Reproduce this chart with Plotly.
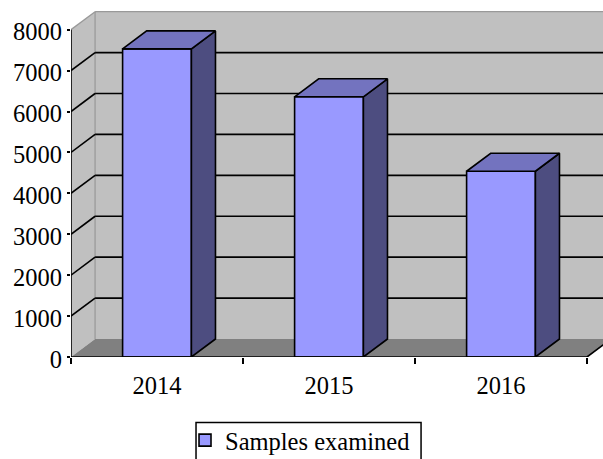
import plotly.graph_objects as go

# Data
years = ["2014", "2015", "2016"]
samples = [7530, 6360, 4540]
series_name = "Samples examined"
y_ticks = [0, 1000, 2000, 3000, 4000, 5000, 6000, 7000, 8000]

# Styling / pseudo-3D projection (depth expressed in axis units)
FONT = "Liberation Serif"
DX, DY = 0.14, 440
BAR_W = 0.4
FRONT, SIDE, TOP = "#9999FF", "#4D4D80", "#7373BF"
WALL, FLOOR, EDGE = "#C0C0C0", "#808080", "#999999"
LW = 1.6
positions = [i + 1 for i in range(len(years))]
x0, x1 = 0.5, len(years) + 0.5
ymax = y_ticks[-1]

fig = go.Figure()


def poly(xs, ys, fill, lw=0, color=None):
    path = "M " + " L ".join(f"{a},{b}" for a, b in zip(xs, ys)) + " Z"
    fig.add_shape(type="path", path=path, xref="x", yref="y", layer="below",
                  fillcolor=fill, line=dict(width=lw, color=color or fill))


def seg(xs, ys, color, lw=LW):
    fig.add_shape(type="line", x0=xs[0], x1=xs[1], y0=ys[0], y1=ys[1], xref="x", yref="y",
                  layer="below", line=dict(color=color, width=lw))


# Walls and floor
poly([x0, x0 + DX, x0 + DX, x0], [0, DY, ymax + DY, ymax], WALL)
poly([x0 + DX, x1 + DX, x1 + DX, x0 + DX], [DY, DY, ymax + DY, ymax + DY], WALL)
poly([x0, x0 + DX, x1 + DX, x1], [0, DY, DY, 0], FLOOR)
seg([x0 + DX, x0 + DX], [DY, ymax + DY], EDGE, 1.3)
seg([x0 + DX, x1 + DX], [ymax + DY, ymax + DY], EDGE, 1.3)
seg([x0, x0 + DX], [ymax, ymax + DY], EDGE, 1.3)

# Gridlines: along the side wall and across the back wall
for v in y_ticks[1:-1]:
    seg([x0, x0 + DX], [v, v + DY], "black")
    seg([x0 + DX, x1 + DX], [v + DY, v + DY], "black")

# Front faces
fig.add_trace(go.Bar(x=positions, y=samples, width=BAR_W, name=series_name, showlegend=True,
                     marker=dict(color=FRONT, line=dict(color="black", width=LW)),
                     cliponaxis=False, hoverinfo="skip"))

# Side and top faces
for p, v in zip(positions, samples):
    l, r = p - BAR_W / 2, p + BAR_W / 2
    fig.add_trace(go.Scatter(x=[r, r + DX, r + DX, r, r], y=[0, DY, v + DY, v, 0], mode="lines",
                             fill="toself", fillcolor=SIDE, line=dict(color="black", width=LW),
                             showlegend=False, cliponaxis=False, hoverinfo="skip"))
    fig.add_trace(go.Scatter(x=[l, l + DX, r + DX, r, l], y=[v, v + DY, v + DY, v, v], mode="lines",
                             fill="toself", fillcolor=TOP, line=dict(color="black", width=LW),
                             showlegend=False, cliponaxis=False, hoverinfo="skip"))

# Axis lines (limited to the front plane)
fig.add_trace(go.Scatter(x=[x0, x0], y=[0, ymax], mode="lines", line=dict(color="black", width=LW),
                         showlegend=False, cliponaxis=False, hoverinfo="skip"))
fig.add_trace(go.Scatter(x=[x0, x1, x1 + DX], y=[0, 0, DY], mode="lines", line=dict(color="black", width=LW),
                         showlegend=False, cliponaxis=False, hoverinfo="skip"))

# Legend frame runs off the bottom of the page, as in the reference
fig.add_shape(type="rect", xref="paper", yref="paper", x0=0.235, x1=0.658, y0=-0.33, y1=-0.189,
              layer="above", fillcolor="white", line=dict(color="black", width=1.5))

fig.update_layout(
    width=603, height=459, autosize=False,
    margin=dict(l=71, r=0, t=10, b=101.7, autoexpand=False),
    paper_bgcolor="white", plot_bgcolor="white",
    font=dict(family=FONT, size=24.5, color="black"),
    xaxis=dict(range=[x0, x0 + 532 / 172], tickvals=positions, ticktext=years, ticks="", showgrid=False,
               zeroline=False, showline=False, ticklabelstandoff=11,
               minor=dict(tickvals=[x0 + i for i in range(len(years) + 1)], ticks="outside", ticklen=6,
                          tickwidth=LW, tickcolor="black", showgrid=False)),
    yaxis=dict(range=[0, 8481], tickvals=y_ticks, ticks="outside", ticklen=3, tickwidth=LW, tickcolor="black",
               showgrid=False, zeroline=False, showline=False, ticklabelstandoff=0, ticklabelshift=2),
    legend=dict(x=0.2143, y=-0.175, xanchor="left", yanchor="top", bgcolor="rgba(0,0,0,0)",
                borderwidth=0, font=dict(family=FONT, size=24.5), itemwidth=30),
    showlegend=True,
)

fig.write_html("out.html", config={"displayModeBar": False},
               post_script="document.body.style.margin='0';document.body.style.overflow='hidden';")
